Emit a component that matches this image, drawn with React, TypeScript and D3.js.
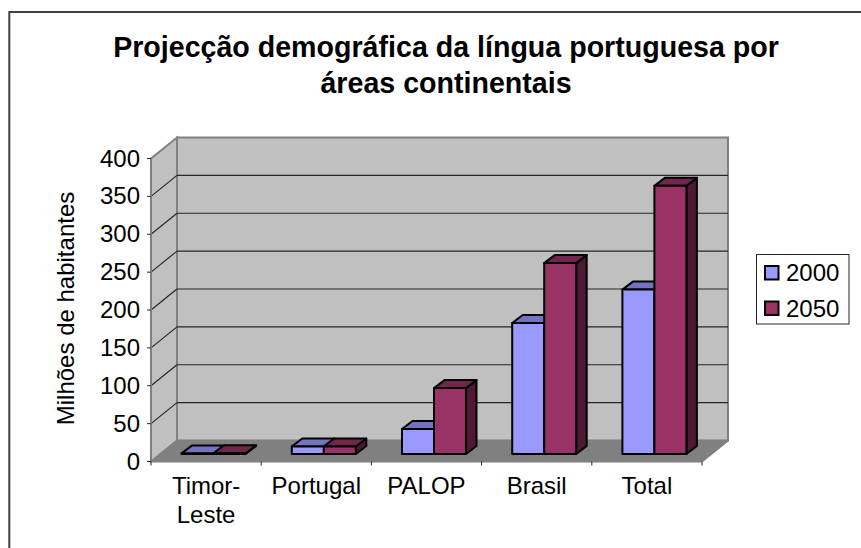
import React from "react";
import * as d3 from "d3";

const titleLines = ["Projecção demográfica da língua portuguesa por", "áreas continentais"];
const yLabel = "Milhões de habitantes";
const categories = ["Timor-Leste", "Portugal", "PALOP", "Brasil", "Total"];
const categoryLines = [["Timor-", "Leste"], ["Portugal"], ["PALOP"], ["Brasil"], ["Total"]];
const seriesNames = ["2000", "2050"];
const values2000 = [0.8, 10, 33, 173, 217];
const values2050 = [1, 10, 87, 252, 354];
const yTicks = [0, 50, 100, 150, 200, 250, 300, 350, 400];

const FONT = "'Liberation Sans', Arial, sans-serif";
const colors = [
  { front: "#9999ff", top: "#7373bf", side: "#4d4d80" },
  { front: "#993366", top: "#73264d", side: "#4d1933" },
];

const y = d3.scaleLinear().domain([0, 400]).range([461.5, 158.5]);
const x = d3.scaleBand().domain(categories).range([151, 702]);
const DX = 26, DY = -21;
const BW = 32, BDX = 10.5, BDY = -8, BASE_DY = -7.5, BAR_SHIFT = 7.5;

const pts = (p: number[][]) => p.map((q) => q.join(",")).join(" ");

export default function App() {
  const series = [values2000, values2050];
  return (
    <svg width={861} height={548} style={{ position: "absolute", left: 0, top: 0, background: "#fff" }} fontFamily={FONT}>
      <line x1={9.3} y1={12} x2={861} y2={12} stroke="#404040" strokeWidth={2} />
      <line x1={9.3} y1={11} x2={9.3} y2={548} stroke="#404040" strokeWidth={2} />
      {titleLines.map((t, i) => (
        <text key={t} x={446} y={57 + i * 36} textAnchor="middle" fontSize={28.6} fontWeight="bold" fill="#000">{t}</text>
      ))}
      {/* walls */}
      <polygon points={pts([[151, y(0)], [151 + DX, y(0) + DY], [702 + DX, y(0) + DY], [702, y(0)]])} fill="#808080" stroke="#808080" />
      <polygon points={pts([[151, y(0)], [151, y(400)], [151 + DX, y(400) + DY], [151 + DX, y(0) + DY]])} fill="#c0c0c0" stroke="#808080" strokeWidth={2} />
      <rect x={151 + DX} y={y(400) + DY} width={702 - 151} height={y(0) - y(400)} fill="#c0c0c0" stroke="#808080" strokeWidth={2} />
      {yTicks.slice(1, -1).map((t) => (
        <g key={t} stroke="#262626" strokeWidth={1.2}>
          <line x1={151} y1={y(t)} x2={151 + DX} y2={y(t) + DY} />
          <line x1={151 + DX} y1={y(t) + DY} x2={702 + DX} y2={y(t) + DY} />
        </g>
      ))}
      <line x1={702} y1={y(0)} x2={702 + DX} y2={y(0) + DY} stroke="#808080" strokeWidth={2} />
      {/* axes */}
      <line x1={151} y1={y(0)} x2={151} y2={y(400)} stroke="#808080" strokeWidth={2} />
      <line x1={151} y1={y(0)} x2={702} y2={y(0)} stroke="#808080" strokeWidth={2} />
      {yTicks.map((t) => (
        <g key={t}>
          <line x1={147} y1={y(t)} x2={151} y2={y(t)} stroke="#262626" />
          <text x={140} y={y(t) + 8} textAnchor="end" fontSize={24}>{t}</text>
        </g>
      ))}
      {categories.map((c, i) => (
        <g key={c}>
          <line x1={x(c)!} y1={y(0)} x2={x(c)!} y2={y(0) + 4} stroke="#262626" />
          {i === categories.length - 1 && <line x1={702} y1={y(0)} x2={702} y2={y(0) + 4} stroke="#262626" />}
          {categoryLines[i].map((l, j) => (
            <text key={l} x={x(c)! + x.bandwidth() / 2} y={494 + j * 29} textAnchor="middle" fontSize={24}>{l}</text>
          ))}
        </g>
      ))}
      {/* bars */}
      {categories.map((c, i) => {
        const cx = x(c)! + x.bandwidth() / 2 + BAR_SHIFT;
        return series.map((vals, s) => {
          const x0 = cx - BW + s * BW;
          const yb = y(0) + BASE_DY;
          const yt = y(vals[i]) + BASE_DY;
          const col = colors[s];
          return (
            <g key={c + s} stroke="#000" strokeWidth={2} strokeLinejoin="round">
              <polygon points={pts([[x0 + BW, yb], [x0 + BW + BDX, yb + BDY], [x0 + BW + BDX, yt + BDY], [x0 + BW, yt]])} fill={col.side} />
              <polygon points={pts([[x0, yt], [x0 + BDX, yt + BDY], [x0 + BW + BDX, yt + BDY], [x0 + BW, yt]])} fill={col.top} />
              <rect x={x0} y={yt} width={BW} height={yb - yt} fill={col.front} />
            </g>
          );
        });
      })}
      {/* legend */}
      <rect x={756.5} y={254.5} width={92.5} height={69.5} fill="#fff" stroke="#262626" />
      {seriesNames.map((n, i) => (
        <g key={n}>
          <rect x={765} y={266 + i * 35.5} width={13.5} height={13.5} fill={colors[i].front} stroke="#000" strokeWidth={2} />
          <text x={786} y={281 + i * 35.5} fontSize={24}>{n}</text>
        </g>
      ))}
      <text transform={`translate(74,308.5) rotate(-90)`} textAnchor="middle" fontSize={24}>{yLabel}</text>
    </svg>
  );
}
